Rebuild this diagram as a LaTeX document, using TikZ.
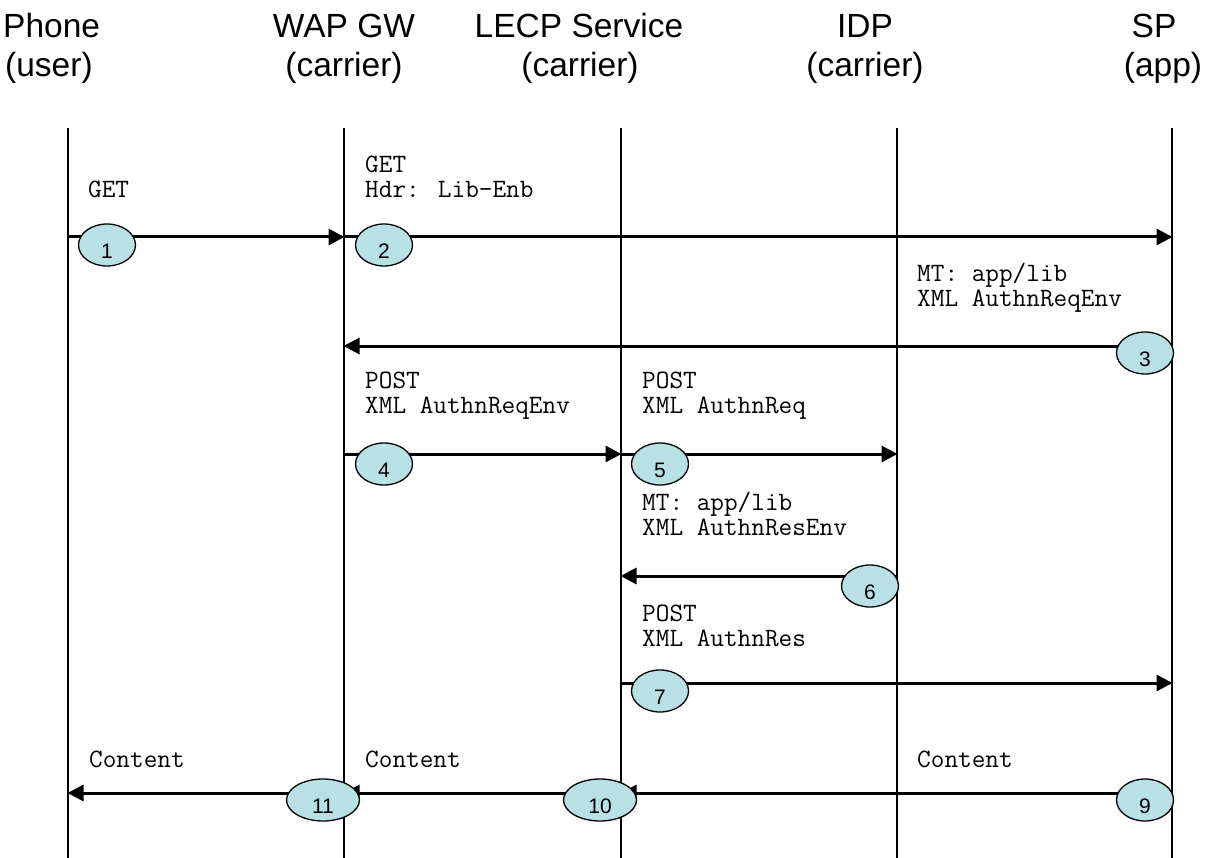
\documentclass[tikz,border=0pt]{standalone}
\usepackage{fontspec}
\setmainfont{Liberation Sans}
\usetikzlibrary{arrows.meta,shapes.geometric}
\definecolor{bubble}{RGB}{185,224,228}
% message text: rows stacked below the first baseline
\newcommand\msgrows[1]{\begin{tabular}[t]{@{}l@{}}#1\end{tabular}}
\tikzset{
  lifeline/.style={line width=1.4pt},
  msg/.style={line width=3pt, -{Triangle[length=16pt,width=16pt]}, shorten >=-0.5pt},
  head/.style={font=\fontsize{33.5}{38}\selectfont, anchor=base, inner sep=0pt},
  note/.style={font=\fontsize{26.5}{25}\selectfont\ttfamily, anchor=base west, inner sep=0pt},
  num/.style={ellipse, draw, line width=1.3pt, fill=bubble, minimum width=57pt, minimum height=42pt, inner sep=0pt,
    label={[font=\fontsize{21}{23}\selectfont, yshift=-6pt]center:#1}},
  numwide/.style={num=#1, minimum width=73pt},
}
\begin{document}
\begin{tikzpicture}[x=1pt,y=-1pt]
\useasboundingbox (0,0) rectangle (1209,858);

% participants
\node[head, anchor=base west] (hPhone) at (3,38) {Phone};
\node[head, anchor=base west] (hUser) at (5,77) {(user)};
\node[head] (hWap) at (344,38) {WAP GW};
\node[head] (hWapC) at (344,77) {(carrier)};
\node[head] (hLecp) at (579,38) {LECP Service};
\node[head] (hLecpC) at (580,77) {(carrier)};
\node[head] (hIdp) at (865,38) {IDP};
\node[head] (hIdpC) at (865,77) {(carrier)};
\node[head] (hSp) at (1154,38) {SP};
\node[head] (hSpA) at (1163,77) {(app)};

% lifelines
\coordinate (phone) at (68,128);
\coordinate (wap) at (344,128);
\coordinate (lecp) at (621,128);
\coordinate (idp) at (897,128);
\coordinate (sp) at (1172,128);
\foreach \p in {phone,wap,lecp,idp,sp}
  \draw[lifeline] (\p) -- (\p |- 0,858);

% message rows
\coordinate (r1) at (0,237);
\coordinate (r3) at (0,346);
\coordinate (r4) at (0,454);
\coordinate (r6) at (0,576);
\coordinate (r7) at (0,683);
\coordinate (r9) at (0,793);

\draw[msg] (phone |- r1) -- (wap |- r1);
\draw[msg] (wap |- r1) -- (sp |- r1);
\draw[msg] (sp |- r3) -- (wap |- r3);
\draw[msg] (wap |- r4) -- (lecp |- r4);
\draw[msg] (lecp |- r4) -- (idp |- r4);
\draw[msg] (idp |- r6) -- (lecp |- r6);
\draw[msg] (lecp |- r7) -- (sp |- r7);
\draw[msg] (sp |- r9) -- (lecp |- r9);
\draw[msg] (lecp |- r9) -- (wap |- r9);
\draw[msg] (wap |- r9) -- (phone |- r9);

% step numbers
\node[num=1] (n1) at (107,245) {};
\node[num=2] (n2) at (384,245) {};
\node[num=3] (n3) at (1145,353) {};
\node[num=4] (n4) at (384,464) {};
\node[num=5] (n5) at (660,464) {};
\node[num=6] (n6) at (870,586) {};
\node[num=7] (n7) at (660,691) {};
\node[num=9] (n9) at (1145,800) {};
\node[numwide=10] (n10) at (600,800) {};
\node[numwide=11] (n11) at (323,800) {};

% message texts
\node[note] (t1) at (88,198) {GET};
\node[note] (t2) at (365,173) {\msgrows{GET\\Hdr: Lib-Enb}};
\node[note] (t3) at (917,282) {\msgrows{MT: app/lib\\XML AuthnReqEnv}};
\node[note] (t4) at (365,388) {\msgrows{POST\\XML AuthnReqEnv}};
\node[note] (t5) at (642,388) {\msgrows{POST\\XML AuthnReq}};
\node[note] (t6) at (642,510) {\msgrows{MT: app/lib\\XML AuthnResEnv}};
\node[note] (t7) at (642,621) {\msgrows{POST\\XML AuthnRes}};
\node[note] (t11) at (89,767) {Content};
\node[note] (t10) at (365,767) {Content};
\node[note] (t9) at (917,767) {Content};
\end{tikzpicture}
\end{document}
